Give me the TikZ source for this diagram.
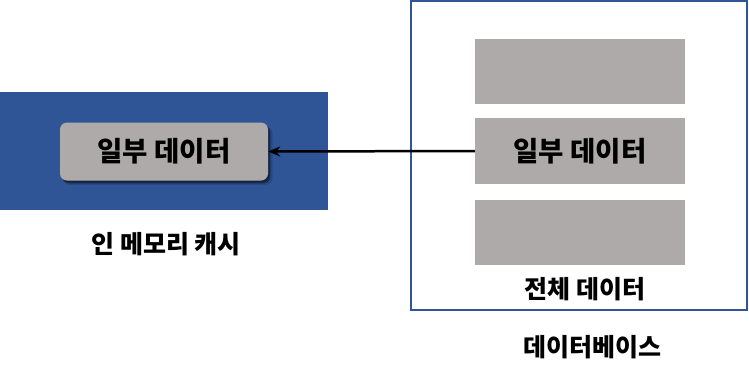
\documentclass[tikz,border=0pt]{standalone}
\usepackage{fontspec}
\setmainfont{Noto Sans CJK KR}
\usetikzlibrary{arrows.meta,shadows}
\definecolor{cacheblue}{HTML}{2F5597}
\definecolor{datagray}{HTML}{AEAAAA}
\tikzset{
  graybox/.style={fill=datagray, draw=none, minimum width=210pt, minimum height=65pt, inner sep=0pt},
  lbl/.style={font=\fontsize{25}{28}\selectfont\bfseries, text=black, inner sep=0pt},
  biglbl/.style={font=\fontsize{27.5}{30}\selectfont\bfseries, text=black},
  softshadow/.style={
    general shadow={shadow xshift=3.5pt, shadow yshift=-4pt, shadow scale=1.01, opacity=0.15, fill=black},
    general shadow={shadow xshift=2.5pt, shadow yshift=-3pt, opacity=0.25, fill=black},
    general shadow={shadow xshift=1.5pt, shadow yshift=-2pt, opacity=0.3, fill=black}},
}
\begin{document}
\begin{tikzpicture}[x=1pt,y=-1pt]
\useasboundingbox (0,0) rectangle (749,376);
% cache
\node[fill=cacheblue, draw=none, minimum width=328pt, minimum height=118pt, inner sep=0pt] (cachebg) at (164,151) {};
\node[fill=datagray, rounded corners=7pt, minimum width=208pt, minimum height=58pt, inner sep=0pt,
      softshadow, biglbl] (cachebox) at (164,151.5) {일부 데이터};
\node[lbl] (cachelbl) at (166,244) {인 메모리 캐시};
% database
\node[draw=cacheblue, line width=1.5pt, minimum width=336pt, minimum height=309pt, inner sep=0pt] (db) at (579,155.5) {};
\node[graybox] (g1) at (580,71) {};
\node[graybox, minimum height=66pt, biglbl] (g2) at (580,151) {일부 데이터};
\node[graybox] (g3) at (580,232) {};
\node[lbl] (alllbl) at (585,289) {전체 데이터};
\node[lbl] (dblbl) at (592,347) {데이터베이스};
% arrow
\draw[line width=2.5pt, -{Stealth[length=12pt,width=10pt]}] (g2.west) -- (cachebox.east);
\end{tikzpicture}
\end{document}
